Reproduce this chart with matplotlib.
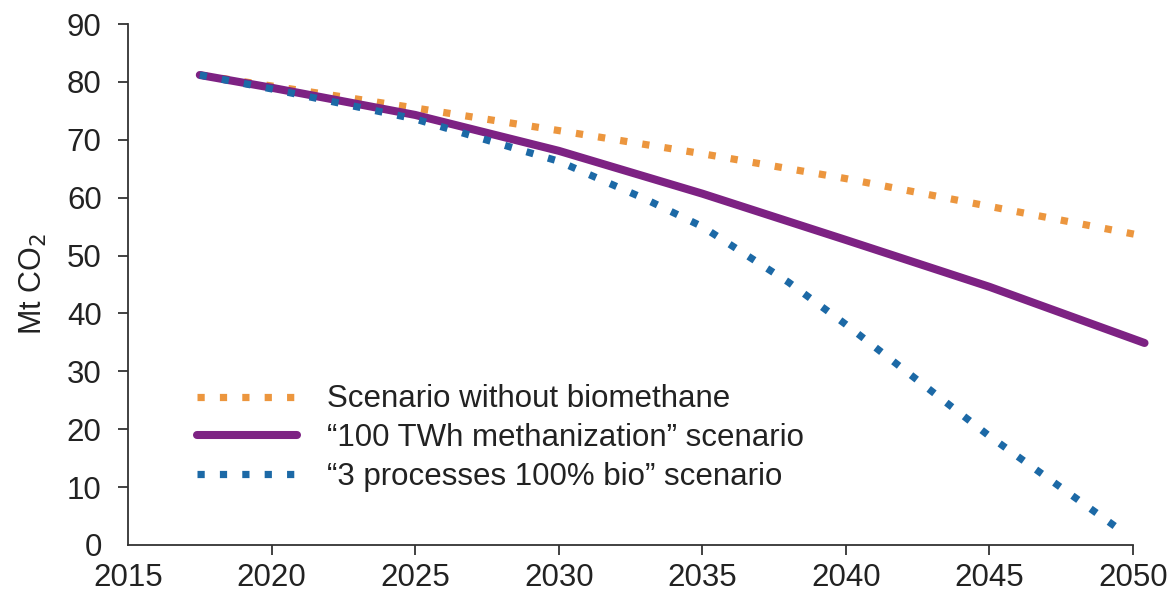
import matplotlib
matplotlib.use("Agg")
import matplotlib.pyplot as plt

plt.rcParams['font.family'] = ['Liberation Sans', 'DejaVu Sans']

years_orange = [2017.5, 2020, 2025, 2030, 2035, 2040, 2045, 2050.25]
no_biomethane = [81.2, 79.3, 75.5, 71.6, 67.6, 63.3, 58.5, 53.5]

years_purple = [2017.5, 2020, 2025, 2030, 2035, 2040, 2045, 2050.4]
methanization_100 = [81.2, 79.0, 74.3, 68.1, 60.7, 52.7, 44.6, 34.9]

years_blue = [2017.5, 2020, 2025, 2030, 2033, 2035, 2038, 2040, 2045, 2049.55]
bio_3_processes = [81.2, 78.8, 73.6, 66.3, 59.8, 55.0, 45.4, 38.1, 18.8, 2.6]

labels = ["Scenario without biomethane",
          "\u201c100 TWh methanization\u201d scenario",
          "\u201c3 processes 100% bio\u201d scenario"]
xticks = [2015, 2020, 2025, 2030, 2035, 2040, 2045, 2050]
yticks = [0, 10, 20, 30, 40, 50, 60, 70, 80, 90]

c_orange = "#EC963E"
c_purple = "#7D2283"
c_blue = "#1C69A6"

fig = plt.figure(figsize=(11.67, 5.94), dpi=100)
ax = fig.add_axes([0.1097, 0.0825, 0.8612, 0.877])

ax.plot(years_orange, no_biomethane, color=c_orange, lw=5.2, linestyle=(0, (1, 2.1)),
        dash_capstyle='butt', label=labels[0], clip_on=False)
ax.plot(years_purple, methanization_100, color=c_purple, lw=5.8, solid_capstyle='round',
        solid_joinstyle='round', label=labels[1], clip_on=False)
ax.plot(years_blue, bio_3_processes, color=c_blue, lw=5.2, linestyle=(0, (1, 2.1)),
        dash_capstyle='butt', label=labels[2], clip_on=False)

ax.set_xlim(2015, 2050)
ax.set_ylim(0, 90)
ax.set_xticks(xticks)
ax.set_yticks(yticks)
for s in ['top', 'right']:
    ax.spines[s].set_visible(False)
for s in ['left', 'bottom']:
    ax.spines[s].set_color('#333333')
    ax.spines[s].set_linewidth(1.3)
ax.tick_params(axis='both', direction='out', length=7, width=1.3, color='#333333',
               labelsize=22.5, labelcolor='#222222')
ax.tick_params(axis='x', pad=6)
ax.tick_params(axis='y', pad=12)
ax.xaxis.get_major_ticks()[0].tick1line.set_visible(False)
ax.yaxis.get_major_ticks()[0].tick1line.set_visible(False)

ax.set_ylabel("Mt CO$_2$", fontsize=22, color='#222222', labelpad=13)

leg = ax.legend(loc='center left', bbox_to_anchor=(0.0687, 0.205), frameon=False,
                fontsize=22.5, handlelength=3.2, handletextpad=0.96, labelspacing=0.28,
                borderaxespad=0, borderpad=0)
for t in leg.get_texts():
    t.set_color('#222222')

fig.savefig("out.png", dpi=100)
